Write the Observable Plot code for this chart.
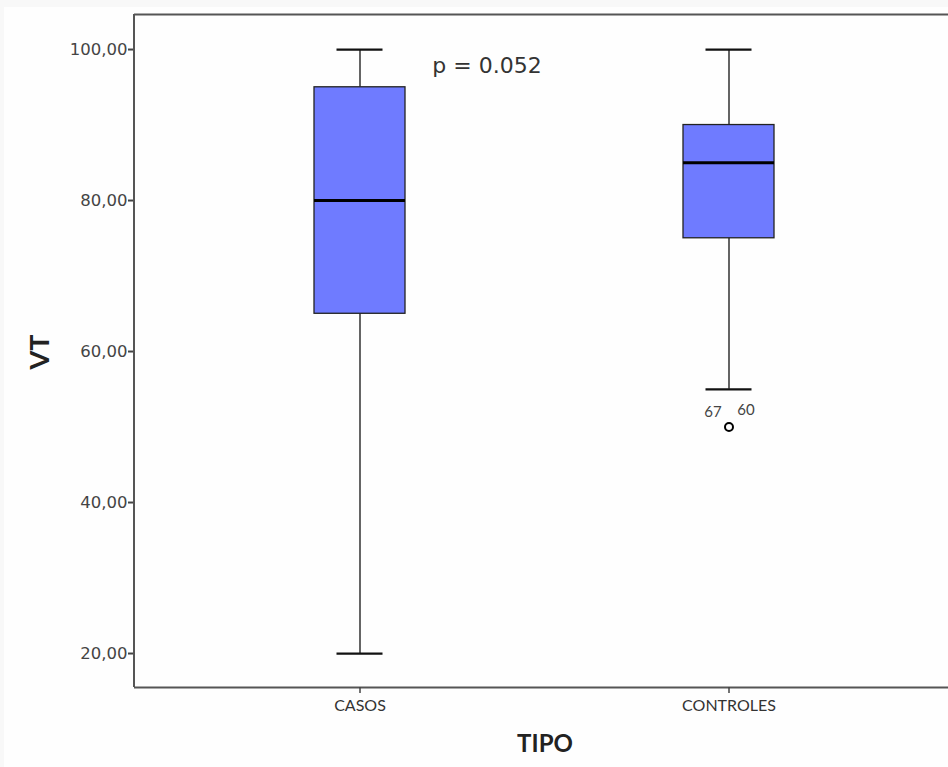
<!DOCTYPE html>
<html>
<head>
<meta charset="utf-8">
<script src="https://cdn.jsdelivr.net/npm/d3@7"></script>
<script src="https://cdn.jsdelivr.net/npm/@observablehq/plot@0.6"></script>
<style>
  html, body { margin: 0; padding: 0; background: #f8f8f8; overflow: hidden; }
  #wrap { position: absolute; left: 4px; top: 7px; width: 944px; height: 760px; background: #fefefe; overflow: hidden; }
  #wrap svg { display: block; }
</style>
</head>
<body>
<div id="wrap"></div>
<script>
const groups = ["CASOS", "CONTROLES"];
const q1 = [65, 75];
const medians = [80, 85];
const q3 = [95, 90];
const whiskerLow = [20, 55];
const whiskerHigh = [100, 100];
const outlierGroup = ["CONTROLES"];
const outlierValue = [50];
const outlierLabelsLeft = ["67"];
const outlierLabelsRight = ["60"];
const yTicks = [20, 40, 60, 80, 100];
const pText = "p = 0.052";

const boxes = groups.map((g, i) => ({g, q1: q1[i], med: medians[i], q3: q3[i], lo: whiskerLow[i], hi: whiskerHigh[i]}));
const outliers = outlierGroup.map((g, i) => ({g, v: outlierValue[i], l: outlierLabelsLeft[i], r: outlierLabelsRight[i]}));

const W = 944, H = 760;
const ml = 130, mt = 7, mb = 80;
const stroke = "#111";
const yMin = 15.5, yMax = 104.64;

const chart = Plot.plot({
  width: W,
  height: H,
  marginLeft: ml,
  marginTop: mt,
  marginBottom: mb,
  marginRight: 0,
  style: {background: "transparent", fontFamily: "DejaVu Sans, sans-serif"},
  x: {
    type: "band",
    domain: groups,
    range: [ml, ml + 819],
    paddingInner: 0.7534,
    paddingOuter: 0.4864,
    align: 0.5,
    axis: null
  },
  y: {
    domain: [yMin, yMax],
    axis: null
  },
  marks: [
    // top and bottom frame lines (open on the right, as in the reference)
    Plot.ruleY([yMax], {stroke: "#555", strokeWidth: 2}),
    Plot.ruleY([yMin], {stroke: "#555", strokeWidth: 2}),
    // y axis
    Plot.axisY({
      ticks: yTicks,
      tickFormat: d => d3.format(".2f")(d).replace(".", ","),
      tickSize: 6,
      tickPadding: 1,
      stroke: "#444",
      strokeWidth: 2,
      fill: "#444",
      fontSize: 16.5,
      label: null
    }),
    Plot.axisX({
      tickSize: 6,
      tickPadding: 6,
      stroke: "#444",
      strokeWidth: 1.5,
      fontSize: 16,
      fontFamily: "Lato, sans-serif",
      fill: "#333",
      label: null
    }),
    // whiskers
    Plot.ruleX(boxes, {x: "g", y1: "lo", y2: "q1", stroke, strokeWidth: 1.3}),
    Plot.ruleX(boxes, {x: "g", y1: "q3", y2: "hi", stroke, strokeWidth: 1.3}),
    Plot.tickY(boxes, {x: "g", y: "lo", stroke, strokeWidth: 2.2, insetLeft: 22.5, insetRight: 22.5}),
    Plot.tickY(boxes, {x: "g", y: "hi", stroke, strokeWidth: 2.2, insetLeft: 22.5, insetRight: 22.5}),
    // boxes
    Plot.barY(boxes, {x: "g", y1: "q1", y2: "q3", fill: "#6f7bff", stroke: "#222", strokeWidth: 1.3}),
    Plot.tickY(boxes, {x: "g", y: "med", stroke: "#000", strokeWidth: 3}),
    // outliers
    Plot.dot(outliers, {x: "g", y: "v", r: 4, stroke: "#000", strokeWidth: 2, fill: "none"}),
    Plot.text(outliers, {x: "g", y: "v", text: "l", dx: -16, dy: -15, fontSize: 15, fill: "#444", fontFamily: "Lato, sans-serif"}),
    Plot.text(outliers, {x: "g", y: "v", text: "r", dx: 17, dy: -17, fontSize: 15, fill: "#444", fontFamily: "Lato, sans-serif"}),
    // p text
    Plot.text([pText], {x: () => groups[0], y: () => 97.8, text: d => d, dx: 127, fontSize: 22, fill: "#333", fontFamily: "DejaVu Sans, sans-serif"})
  ]
});

const svg = d3.select(chart);
// left frame line
const ys = chart.scale("y");
svg.append("line")
  .attr("x1", ml).attr("x2", ml)
  .attr("y1", ys.apply(yMax)).attr("y2", ys.apply(yMin))
  .attr("stroke", "#555").attr("stroke-width", 2);
// axis titles
svg.append("text")
  .attr("transform", `translate(45, 345) rotate(-90)`)
  .attr("text-anchor", "middle")
  .attr("font-family", "Lato, sans-serif")
  .attr("font-weight", "bold")
  .attr("font-size", 27)
  .attr("fill", "#222")
  .text("VT");
svg.append("text")
  .attr("x", 541)
  .attr("y", 745)
  .attr("text-anchor", "middle")
  .attr("font-family", "Lato, sans-serif")
  .attr("font-weight", "bold")
  .attr("font-size", 24)
  .attr("fill", "#222")
  .text("TIPO");

document.getElementById("wrap").appendChild(chart);
</script>
</body>
</html>
